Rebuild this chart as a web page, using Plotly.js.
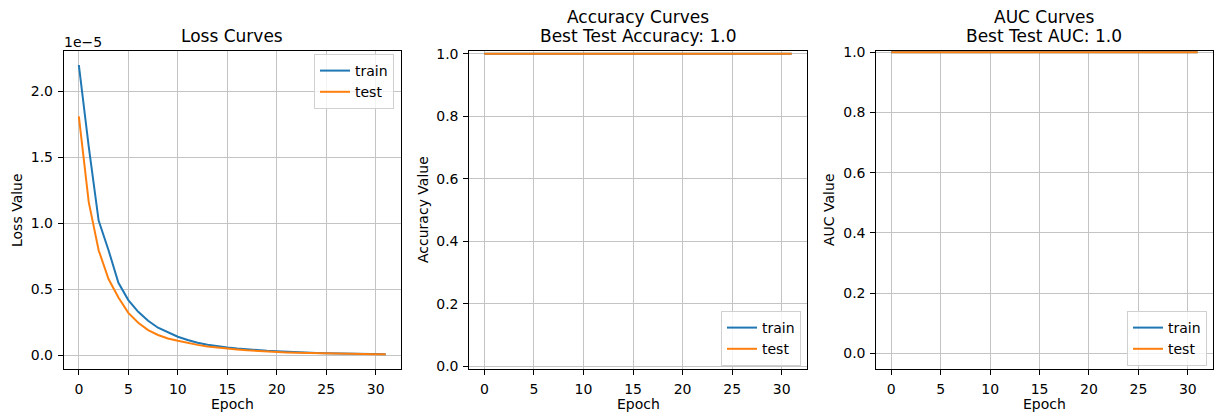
<!DOCTYPE html>
<html>
<head>
<meta charset="utf-8">
<script src="https://cdn.plot.ly/plotly-3.0.1.min.js"></script>
<style>html,body{margin:0;padding:0;background:#fff;}#chart{width:1215px;height:420px;}</style>
</head>
<body>
<div id="chart"></div>
<script>
// ---- data ----
const epochs = [0,1,2,3,4,5,6,7,8,9,10,11,12,13,14,15,16,17,18,19,20,21,22,23,24,25,26,27,28,29,30,31];
const trainLoss = [2.20e-5,1.58e-5,1.02e-5,0.795e-5,0.548e-5,0.417e-5,0.328e-5,0.260e-5,0.207e-5,0.172e-5,0.139e-5,0.114e-5,0.093e-5,0.078e-5,0.066e-5,0.058e-5,0.050e-5,0.043e-5,0.037e-5,0.032e-5,0.028e-5,0.024e-5,0.021e-5,0.018e-5,0.016e-5,0.014e-5,0.012e-5,0.010e-5,0.009e-5,0.008e-5,0.007e-5,0.006e-5];
const testLoss = [1.81e-5,1.16e-5,0.795e-5,0.576e-5,0.437e-5,0.320e-5,0.245e-5,0.189e-5,0.152e-5,0.126e-5,0.108e-5,0.091e-5,0.077e-5,0.065e-5,0.056e-5,0.048e-5,0.042e-5,0.036e-5,0.031e-5,0.027e-5,0.023e-5,0.020e-5,0.017e-5,0.015e-5,0.013e-5,0.011e-5,0.010e-5,0.008e-5,0.007e-5,0.006e-5,0.005e-5,0.005e-5];
const trainAcc = [1,1,1,1,1,1,1,1,1,1,1,1,1,1,1,1,1,1,1,1,1,1,1,1,1,1,1,1,1,1,1,1];
const testAcc  = [1,1,1,1,1,1,1,1,1,1,1,1,1,1,1,1,1,1,1,1,1,1,1,1,1,1,1,1,1,1,1,1];
const trainAuc = [1,1,1,1,1,1,1,1,1,1,1,1,1,1,1,1,1,1,1,1,1,1,1,1,1,1,1,1,1,1,1,1];
const testAuc  = [1,1,1,1,1,1,1,1,1,1,1,1,1,1,1,1,1,1,1,1,1,1,1,1,1,1,1,1,1,1,1,1];
const lossTickVals = [0, 0.5e-5, 1.0e-5, 1.5e-5, 2.0e-5];
const lossTickText = ["0.0", "0.5", "1.0", "1.5", "2.0"];
const epochTicks = [0,5,10,15,20,25,30];
const fracTicks = [0,0.2,0.4,0.6,0.8,1.0];
const fracTickText = ["0.0","0.2","0.4","0.6","0.8","1.0"];

// ---- style ----
const W = 1215, H = 420;
const BLUE = '#1f77b4', ORANGE = '#ff7f0e';
const FONT = 'DejaVu Sans, sans-serif';
const TICK = 14;
const TITLE = 17;
const px2x = p => p / W;
const px2y = p => 1 - p / H;
const yDom = [px2y(369), px2y(50.5)];

function line(x, y, name, color, xa, ya, leg, show) {
  return {x: x, y: y, name: name, type: 'scatter', mode: 'lines',
          line: {color: color, width: 2}, xaxis: xa, yaxis: ya,
          legend: leg, showlegend: show};
}

const traces = [
  line(epochs, trainLoss, 'train', BLUE, 'x', 'y', 'legend', true),
  line(epochs, testLoss, 'test', ORANGE, 'x', 'y', 'legend', true),
  line(epochs, trainAcc, 'train', BLUE, 'x2', 'y2', 'legend2', true),
  line(epochs, testAcc, 'test', ORANGE, 'x2', 'y2', 'legend2', true),
  line(epochs, trainAuc, 'train', BLUE, 'x3', 'y3', 'legend3', true),
  line(epochs, testAuc, 'test', ORANGE, 'x3', 'y3', 'legend3', true)
];

function xax(dom, anchor) {
  return {domain: dom, anchor: anchor, range: [-1.55, 32.55], tickvals: epochTicks,
          showline: true, mirror: true, linecolor: '#000', linewidth: 1,
          ticks: 'outside', ticklen: 4.7, tickwidth: 1, tickcolor: '#000',
          showgrid: true, gridcolor: '#c4c4c4', gridwidth: 1, zeroline: false,
          tickfont: {family: FONT, size: TICK, color: '#000'}, ticklabelstandoff: 2};
}
function yax(range, vals, text, anchor) {
  return {domain: yDom, anchor: anchor, range: range, tickvals: vals, ticktext: text,
          showline: true, mirror: true, linecolor: '#000', linewidth: 1,
          ticks: 'outside', ticklen: 4.7, tickwidth: 1, tickcolor: '#000',
          showgrid: true, gridcolor: '#c4c4c4', gridwidth: 1, zeroline: false,
          tickfont: {family: FONT, size: TICK, color: '#000'}, ticklabelstandoff: 2};
}
function legend(xr, yt) {
  return {x: px2x(xr), y: px2y(yt), xanchor: 'right', yanchor: 'top', xref: 'paper', yref: 'paper',
          bgcolor: 'rgba(255,255,255,0.8)', bordercolor: '#d0d0d0', borderwidth: 1,
          font: {family: FONT, size: TICK, color: '#000'}, itemwidth: 30, tracegroupgap: 0};
}
function ann(text, xp, yp, size, angle) {
  return {text: text, x: px2x(xp), y: px2y(yp), xref: 'paper', yref: 'paper',
          xanchor: 'center', yanchor: 'middle', showarrow: false, textangle: angle || 0,
          font: {family: FONT, size: size, color: '#000'}};
}

const layout = {
  width: W, height: H, margin: {l: 0, r: 0, t: 0, b: 0},
  paper_bgcolor: '#fff', plot_bgcolor: '#fff',
  xaxis: xax([px2x(63.5), px2x(401)], 'y'),
  yaxis: yax([-0.106e-5, 2.31e-5], lossTickVals, lossTickText, 'x'),
  xaxis2: xax([px2x(469), px2x(807)], 'y2'),
  yaxis2: yax([-0.0085, 1.0107], fracTicks, fracTickText, 'x2'),
  xaxis3: xax([px2x(876), px2x(1213)], 'y3'),
  yaxis3: yax([-0.052, 1.0057], fracTicks, fracTickText, 'x3'),
  legend: legend(394, 54),
  legend2: legend(801, 311),
  legend3: legend(1207, 311),
  annotations: [
    ann('Loss Curves', 232, 35.7, TITLE),
    ann('Accuracy Curves', 638, 17.3, TITLE),
    ann('Best Test Accuracy: 1.0', 638, 35.7, TITLE),
    ann('AUC Curves', 1044, 17.3, TITLE),
    ann('Best Test AUC: 1.0', 1044, 35.7, TITLE),
    ann('Epoch', 232, 403.5, TICK),
    ann('Epoch', 638, 403.5, TICK),
    ann('Epoch', 1044, 403.5, TICK),
    ann('Loss Value', 17, 210, TICK, -90),
    ann('Accuracy Value', 423, 210, TICK, -90),
    ann('AUC Value', 829, 210, TICK, -90),
    {text: '1e\u22125', x: px2x(62), y: px2y(41.7), xref: 'paper', yref: 'paper',
     xanchor: 'left', yanchor: 'middle', showarrow: false,
     font: {family: FONT, size: TICK, color: '#000'}}
  ]
};

Plotly.newPlot('chart', traces, layout, {displayModeBar: false, staticPlot: true});
</script>
</body>
</html>
